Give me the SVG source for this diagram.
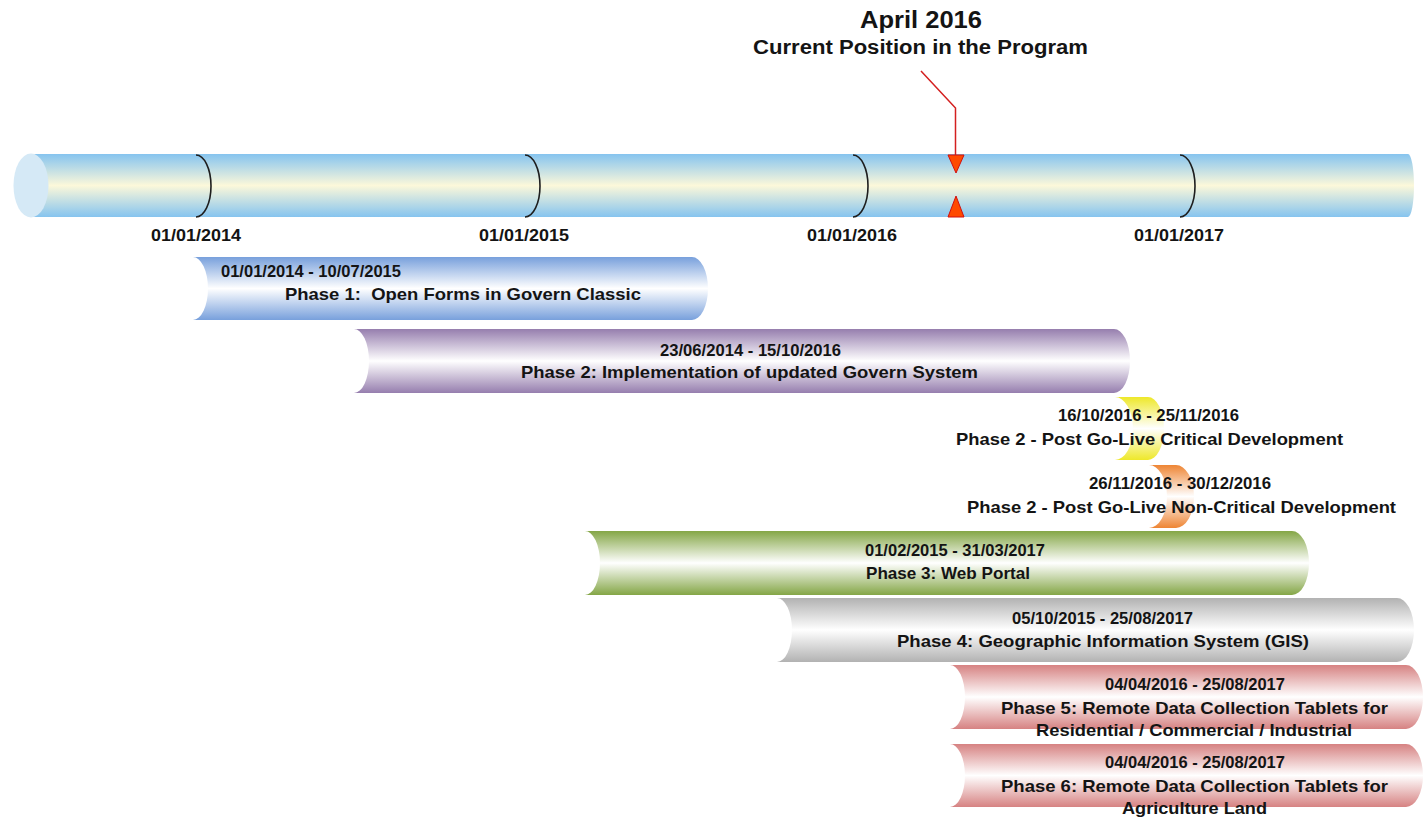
<svg xmlns="http://www.w3.org/2000/svg" width="1424" height="819" viewBox="0 0 1424 819">
  <style>
    text { font-family: "Liberation Sans", Arial, sans-serif; font-weight: bold; fill: #141414; white-space: pre; }
    .title { font-size: 24px; }
    .sub { font-size: 20px; }
    .lbl { font-size: 17px; }
    .tick { fill: none; stroke: #1e1e1e; stroke-width: 1.6; }
    .pointer { fill: none; stroke: #d42020; stroke-width: 1.5; }
    .tri { fill: #ff4a00; stroke: #d01010; stroke-width: 1; }
  </style>
  <defs>
    <linearGradient id="gTime" x1="0" y1="0" x2="0" y2="1">
      <stop offset="0" stop-color="#86c4ef"/>
      <stop offset="0.5" stop-color="#fcf8da"/>
      <stop offset="1" stop-color="#86c4ef"/>
    </linearGradient>
    <linearGradient id="gBlue" x1="0" y1="0" x2="0" y2="1">
      <stop offset="0" stop-color="#78a0dc"/>
      <stop offset="0.5" stop-color="#ffffff"/>
      <stop offset="1" stop-color="#78a0dc"/>
    </linearGradient>
    <linearGradient id="gPurple" x1="0" y1="0" x2="0" y2="1">
      <stop offset="0" stop-color="#967eae"/>
      <stop offset="0.5" stop-color="#ffffff"/>
      <stop offset="1" stop-color="#967eae"/>
    </linearGradient>
    <linearGradient id="gYellow" x1="0" y1="0" x2="0" y2="1">
      <stop offset="0" stop-color="#eee82a"/>
      <stop offset="0.5" stop-color="#ffffff"/>
      <stop offset="1" stop-color="#eee82a"/>
    </linearGradient>
    <linearGradient id="gOrange" x1="0" y1="0" x2="0" y2="1">
      <stop offset="0" stop-color="#ee8534"/>
      <stop offset="0.5" stop-color="#ffffff"/>
      <stop offset="1" stop-color="#ee8534"/>
    </linearGradient>
    <linearGradient id="gGreen" x1="0" y1="0" x2="0" y2="1">
      <stop offset="0" stop-color="#84a646"/>
      <stop offset="0.5" stop-color="#ffffff"/>
      <stop offset="1" stop-color="#84a646"/>
    </linearGradient>
    <linearGradient id="gGray" x1="0" y1="0" x2="0" y2="1">
      <stop offset="0" stop-color="#b2b2b2"/>
      <stop offset="0.5" stop-color="#ffffff"/>
      <stop offset="1" stop-color="#b2b2b2"/>
    </linearGradient>
    <linearGradient id="gPink" x1="0" y1="0" x2="0" y2="1">
      <stop offset="0" stop-color="#d68282"/>
      <stop offset="0.5" stop-color="#ffffff"/>
      <stop offset="1" stop-color="#d68282"/>
    </linearGradient>
  </defs>

  <!-- heading -->
  <g id="heading">
    <text class="title" x="860" y="28" textLength="122" lengthAdjust="spacingAndGlyphs">April 2016</text>
    <text class="sub" x="753" y="54" textLength="335" lengthAdjust="spacingAndGlyphs">Current Position in the Program</text>
  </g>

  <!-- main time axis -->
  <g id="timeline">
    <path d="M31,154 L1408,154 A6,31.5 0 0 1 1408,217 L31,217 Z" fill="url(#gTime)"/>
    <ellipse cx="31" cy="185.5" rx="17.5" ry="32" fill="#d5e9f6"/>
    <path class="tick" d="M196,155 A15,31 0 0 1 196,217"/>
    <path class="tick" d="M525,155 A15,31 0 0 1 525,217"/>
    <path class="tick" d="M853,155 A15,31 0 0 1 853,217"/>
    <path class="tick" d="M1180,155 A15,31 0 0 1 1180,217"/>
    <text class="lbl" x="151" y="241" textLength="90" lengthAdjust="spacingAndGlyphs">01/01/2014</text>
    <text class="lbl" x="479" y="241" textLength="90" lengthAdjust="spacingAndGlyphs">01/01/2015</text>
    <text class="lbl" x="807" y="241" textLength="90" lengthAdjust="spacingAndGlyphs">01/01/2016</text>
    <text class="lbl" x="1134" y="241" textLength="90" lengthAdjust="spacingAndGlyphs">01/01/2017</text>
  </g>

  <!-- current position pointer -->
  <g id="connectors">
    <polyline class="pointer" points="921,71 955.5,108 955.5,156"/>
    <polygon class="tri" points="948,155 964,155 956,173"/>
    <polygon class="tri" points="956,196 964,217 948,217"/>
  </g>

  <!-- phase bars: concave left end, rounded right end -->
  <g id="phase1">
    <path d="M193,257 L692,257 A16,31.5 0 0 1 692,320 L193,320 A15,31.5 0 0 0 193,257 Z" fill="url(#gBlue)"/>
    <text class="lbl" x="221" y="277" textLength="180" lengthAdjust="spacingAndGlyphs">01/01/2014 - 10/07/2015</text>
    <text class="lbl" x="285" y="300" textLength="356" lengthAdjust="spacingAndGlyphs">Phase 1:  Open Forms in Govern Classic</text>
  </g>

  <g id="phase2">
    <path d="M354,329 L1114,329 A16,32 0 0 1 1114,393 L354,393 A15,32 0 0 0 354,329 Z" fill="url(#gPurple)"/>
    <text class="lbl" x="660" y="356" textLength="181" lengthAdjust="spacingAndGlyphs">23/06/2014 - 15/10/2016</text>
    <text class="lbl" x="521" y="378" textLength="457" lengthAdjust="spacingAndGlyphs">Phase 2: Implementation of updated Govern System</text>
  </g>

  <g id="phase2-critical">
    <path d="M1115,397 L1148,397 A16,31.5 0 0 1 1148,460 L1115,460 A18,31.5 0 0 0 1115,397 Z" fill="url(#gYellow)"/>
    <text class="lbl" x="1058" y="421" textLength="181" lengthAdjust="spacingAndGlyphs">16/10/2016 - 25/11/2016</text>
    <text class="lbl" x="956" y="445" textLength="387" lengthAdjust="spacingAndGlyphs">Phase 2 - Post Go-Live Critical Development</text>
  </g>

  <g id="phase2-noncritical">
    <path d="M1149,465 L1176,465 A18,31.5 0 0 1 1176,528 L1149,528 A18,31.5 0 0 0 1149,465 Z" fill="url(#gOrange)"/>
    <text class="lbl" x="1089" y="489" textLength="182" lengthAdjust="spacingAndGlyphs">26/11/2016 - 30/12/2016</text>
    <text class="lbl" x="967" y="513" textLength="429" lengthAdjust="spacingAndGlyphs">Phase 2 - Post Go-Live Non-Critical Development</text>
  </g>

  <g id="phase3">
    <path d="M585,531 L1292,531 A17,32 0 0 1 1292,595 L585,595 A15,32 0 0 0 585,531 Z" fill="url(#gGreen)"/>
    <text class="lbl" x="865" y="556" textLength="180" lengthAdjust="spacingAndGlyphs">01/02/2015 - 31/03/2017</text>
    <text class="lbl" x="866" y="579" textLength="164" lengthAdjust="spacingAndGlyphs">Phase 3: Web Portal</text>
  </g>

  <g id="phase4">
    <path d="M777,598 L1397,598 A17,32 0 0 1 1397,662 L777,662 A15,32 0 0 0 777,598 Z" fill="url(#gGray)"/>
    <text class="lbl" x="1012" y="624" textLength="181" lengthAdjust="spacingAndGlyphs">05/10/2015 - 25/08/2017</text>
    <text class="lbl" x="897" y="647" textLength="412" lengthAdjust="spacingAndGlyphs">Phase 4: Geographic Information System (GIS)</text>
  </g>

  <g id="phase5">
    <path d="M950,665 L1406,665 A17,32 0 0 1 1406,729 L950,729 A15,32 0 0 0 950,665 Z" fill="url(#gPink)"/>
    <text class="lbl" x="1105" y="690" textLength="180" lengthAdjust="spacingAndGlyphs">04/04/2016 - 25/08/2017</text>
    <text class="lbl" x="1001" y="714" textLength="387" lengthAdjust="spacingAndGlyphs">Phase 5: Remote Data Collection Tablets for</text>
    <text class="lbl" x="1036" y="736" textLength="316" lengthAdjust="spacingAndGlyphs">Residential / Commercial / Industrial</text>
  </g>

  <g id="phase6">
    <path d="M950,744 L1406,744 A17,31.5 0 0 1 1406,807 L950,807 A15,31.5 0 0 0 950,744 Z" fill="url(#gPink)"/>
    <text class="lbl" x="1105" y="768" textLength="180" lengthAdjust="spacingAndGlyphs">04/04/2016 - 25/08/2017</text>
    <text class="lbl" x="1001" y="792" textLength="387" lengthAdjust="spacingAndGlyphs">Phase 6: Remote Data Collection Tablets for</text>
    <text class="lbl" x="1122" y="814" textLength="145" lengthAdjust="spacingAndGlyphs">Agriculture Land</text>
  </g>
</svg>
